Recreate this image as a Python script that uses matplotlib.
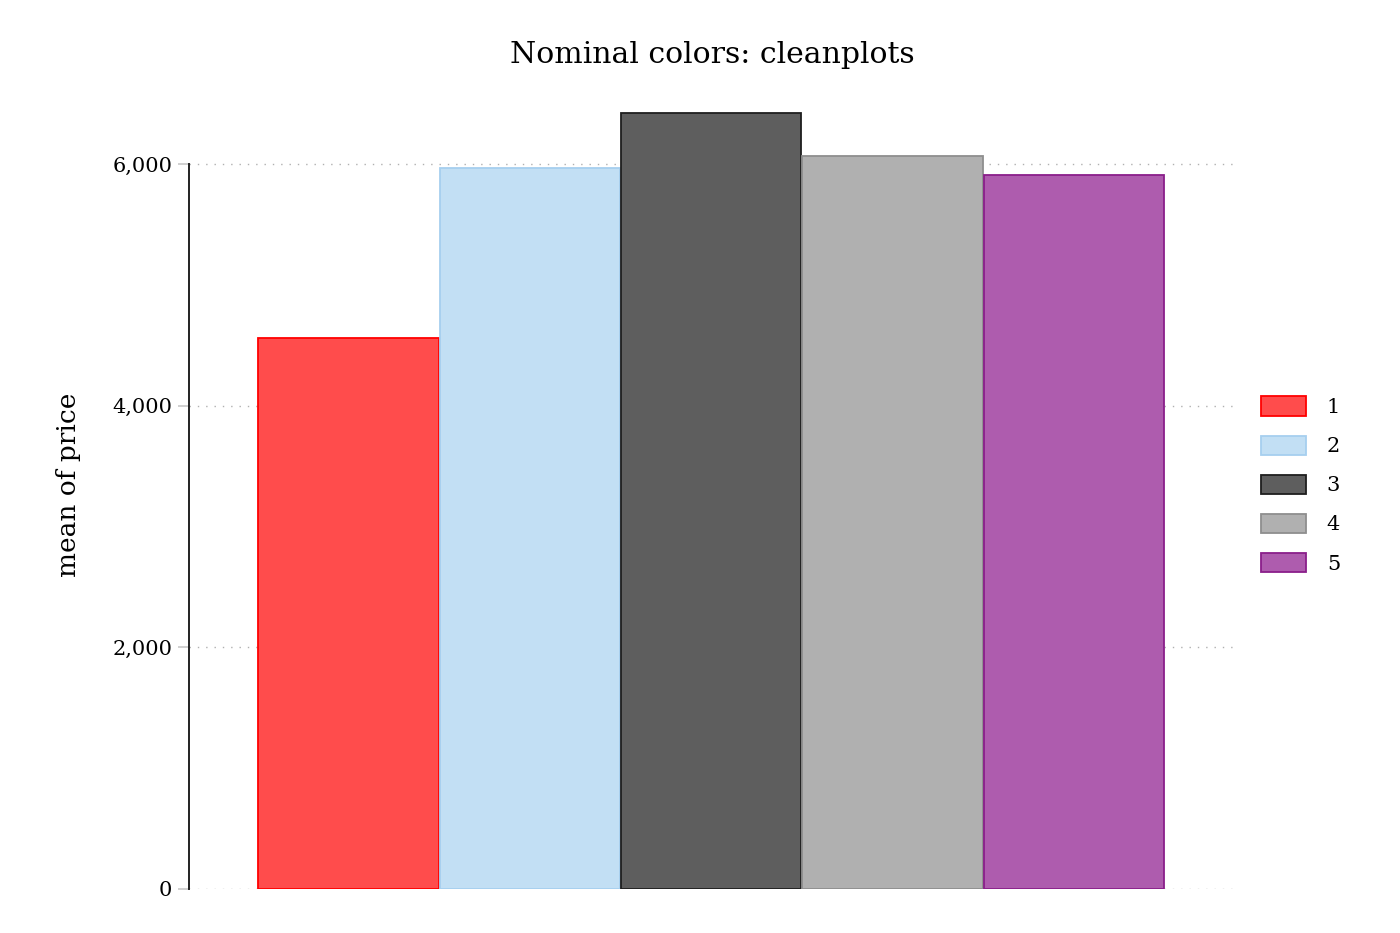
import matplotlib
matplotlib.use("Agg")
from matplotlib import pyplot as plt
from matplotlib.patches import Patch
from matplotlib.ticker import FuncFormatter

# mean price by repair record (rep78)
groups = ["1", "2", "3", "4", "5"]
mean_price = [4564.5, 5967.625, 6429.233, 6071.5, 5913.0]
yticks = [0, 2000, 4000, 6000]

fills = ["#FF4C4C", "#C2DFF4", "#5E5E5E", "#B0B0B0", "#AE5CAE"]
edges = ["#FF0000", "#A6CFEF", "#1E1E1E", "#8E8E8E", "#8A1E8A"]

plt.rcParams["font.family"] = ["DejaVu Serif"]

fig = plt.figure(figsize=(14, 9.33), dpi=100)
ax = fig.add_axes([189 / 1400, 44 / 933, (1237 - 189) / 1400, (889 - 104) / 933])

x = list(range(len(groups)))
ax.bar(x, mean_price, width=0.995, color=fills, edgecolor=edges,
       linewidth=1.3, zorder=3)

ax.set_xlim(-0.88, 4.9)
ax.set_ylim(-2, 6500)
ax.set_yticks(yticks)
ax.yaxis.set_major_formatter(FuncFormatter(lambda v, p: f"{int(v):,}"))
ax.tick_params(axis="y", length=8, width=1.2, color="#C8C8C8", pad=4,
               labelsize=15)
ax.set_xticks([])
ax.grid(axis="y", linestyle=(0, (1, 5)), color="#B0B0B0", linewidth=1, zorder=0)

for s in ["top", "right", "bottom"]:
    ax.spines[s].set_visible(False)
ax.spines["left"].set_color("#222222")
ax.spines["left"].set_linewidth(1.4)
ax.spines["left"].set_bounds(0, 6000)

ax.set_ylabel("mean of price", fontsize=19)
ax.yaxis.set_label_coords(-0.103, 0.515)
fig.text(712 / 1400, 1 - 55 / 933, "Nominal colors: cleanplots",
         ha="center", va="center", fontsize=21.5)

handles = [Patch(facecolor=f, edgecolor=e, linewidth=1.3) for f, e in zip(fills, edges)]
fig.legend(handles, groups, loc="center left", bbox_to_anchor=(1242 / 1400, 1 - 485 / 933),
           frameon=False, fontsize=15, handlelength=2.17, handleheight=1.05,
           labelspacing=0.88, handletextpad=1.0)

plt.savefig("out.png", dpi=100)
